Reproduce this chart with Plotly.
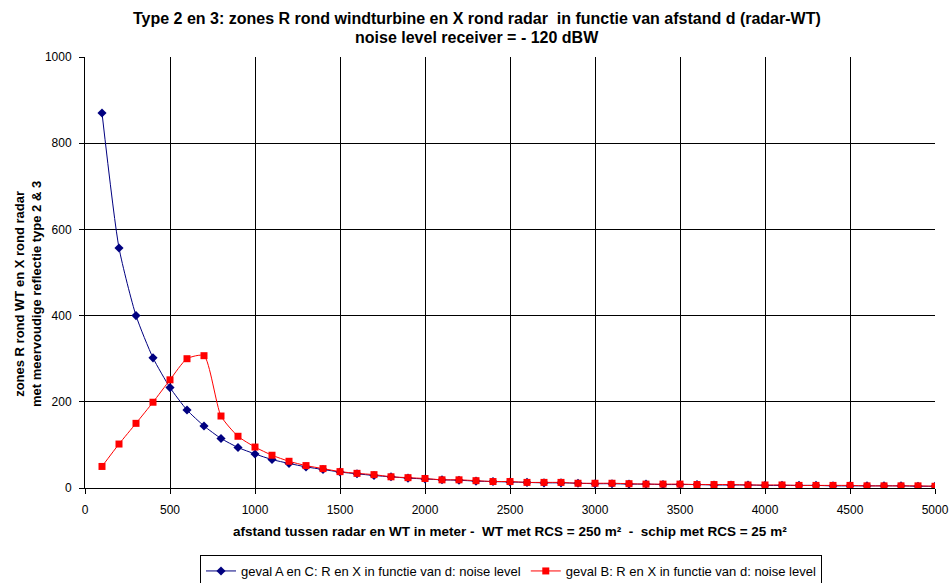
import plotly.graph_objects as go

d = list(range(100, 5001, 100))

geval_AC = [870, 557, 400, 302, 233, 181, 144, 115, 94, 79,
            66, 57, 49, 43, 37, 33, 29, 26, 23, 21,
            19, 18, 16, 15, 14, 13, 12, 12, 11, 10,
            10, 9, 9, 8, 8, 8, 7, 7, 7, 6,
            6, 6, 6, 5, 5, 5, 5, 5, 4, 4]

geval_B = [50, 102, 150, 199, 251, 300, 307, 167, 120, 95,
           76, 62, 52, 45, 38, 34, 31, 26, 24, 22,
           19, 19, 17, 15, 15, 13, 13, 13, 11, 11,
           11, 10, 9, 9, 9, 8, 8, 8, 7, 7,
           7, 6, 6, 6, 6, 5, 5, 5, 5, 4]

title_line1 = "<b>Type 2 en 3: zones R rond windturbine en X rond radar  in functie van afstand d (radar-WT)</b>"
title_line2 = "<b>noise level receiver = - 120 dBW</b>"
x_title = "<b>afstand tussen radar en WT in meter -  WT met RCS = 250 m²  -  schip met RCS = 25 m²</b>"
y_title = "<b>zones R rond WT en X rond radar<br>met meervoudige reflectie type 2 & 3</b>"

FONT = "Liberation Sans, Arial, sans-serif"
NARROW = "Liberation Sans Narrow, Arial Narrow, Liberation Sans, Arial, sans-serif"

fig = go.Figure()
fig.add_trace(go.Scatter(
    x=d, y=geval_AC, mode="lines+markers",
    name="geval A en C: R en X in functie van d: noise level",
    line=dict(color="#000080", width=1, shape="spline", smoothing=0.6),
    marker=dict(symbol="diamond", size=7, color="#000080"),
))
fig.add_trace(go.Scatter(
    x=d, y=geval_B, mode="lines+markers",
    name="geval B: R en X in functie van d: noise level",
    line=dict(color="#FF0000", width=1, shape="spline", smoothing=0.6),
    marker=dict(symbol="square", size=7, color="#FF0000"),
))

axis_common = dict(
    showgrid=True, gridcolor="black", gridwidth=1,
    showline=True, linecolor="black", linewidth=1,
    ticks="outside", ticklen=5, tickcolor="black",
    zeroline=False, automargin=False,
    tickfont=dict(family=NARROW, size=12, color="black"),
)

title_x = (477 - 85) / 850

fig.update_layout(
    width=951, height=583,
    paper_bgcolor="white", plot_bgcolor="white",
    font=dict(family=FONT, size=12, color="black"),
    margin=dict(l=85, r=16, t=57, b=95, autoexpand=False),
    xaxis=dict(range=[0, 5000], dtick=500, tick0=0, ticklabelstandoff=6, **axis_common),
    yaxis=dict(range=[0, 1000], dtick=200, tick0=0, ticklabelstandoff=5, **axis_common),
    showlegend=True,
    legend=dict(
        orientation="h", x=511 / 951, xref="container", xanchor="center",
        y=-(555 - 488) / 431, yanchor="top",
        bordercolor="black", borderwidth=1, bgcolor="white",
        font=dict(family=FONT, size=13, color="black"), itemwidth=30,
    ),
    annotations=[
        dict(text=title_line1, xref="paper", yref="paper", x=title_x, y=1 + (57 - 18) / 431,
             xanchor="center", yanchor="middle", showarrow=False,
             font=dict(family=FONT, size=16, color="black")),
        dict(text=title_line2, xref="paper", yref="paper", x=title_x, y=1 + (57 - 38) / 431,
             xanchor="center", yanchor="middle", showarrow=False,
             font=dict(family=FONT, size=16, color="black")),
        dict(text=x_title, xref="paper", yref="paper", x=0.5, y=-(531 - 488) / 431,
             xanchor="center", yanchor="middle", showarrow=False,
             font=dict(family=FONT, size=13.5, color="black")),
        dict(text=y_title, xref="paper", yref="paper", x=-(85 - 28) / 850, y=(488 - 294) / 431,
             xanchor="center", yanchor="middle", showarrow=False, textangle=-90,
             font=dict(family=FONT, size=13, color="black")),
    ],
)

fig.write_html(
    "out.html",
    config={"displayModeBar": False},
    post_script="document.body.style.margin='0';document.body.style.padding='0';document.body.style.overflow='hidden';",
)
